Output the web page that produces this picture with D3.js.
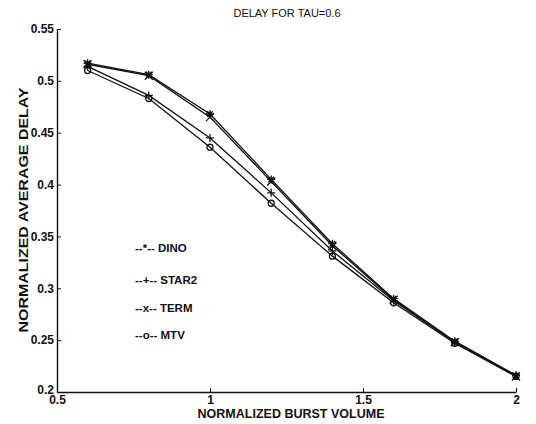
<!DOCTYPE html>
<html><head><meta charset="utf-8">
<script src="https://cdn.jsdelivr.net/npm/d3@7"></script>
<style>body{margin:0;background:#fff}svg{display:block}text{font-family:"Liberation Sans",Arial,sans-serif;fill:#111}</style>
</head><body>
<script>
const xValues = [0.6, 0.8, 1.0, 1.2, 1.4, 1.6, 1.8, 2.0];
const dino  = [0.517, 0.506, 0.468, 0.405, 0.343, 0.290, 0.249, 0.216];
const star2 = [0.514, 0.486, 0.445, 0.392, 0.336, 0.288, 0.248, 0.216];
const term  = [0.516, 0.505, 0.465, 0.403, 0.341, 0.289, 0.248, 0.215];
const mtv   = [0.510, 0.483, 0.436, 0.382, 0.331, 0.286, 0.247, 0.215];
const seriesNames = ["DINO", "STAR2", "TERM", "MTV"];
const markerSyms = ["*", "+", "x", "o"];
const xTicks = [0.5, 1, 1.5, 2];
const yTicks = [0.2, 0.25, 0.3, 0.35, 0.4, 0.45, 0.5, 0.55];

const W = 536, H = 424;
const FF = "Liberation Sans, Arial, sans-serif";
const svg = d3.select("body").append("svg").attr("width", W).attr("height", H);
const x = d3.scaleLinear().domain([0.5, 2]).range([57, 516]);
const y = d3.scaleLinear().domain([0.2, 0.55]).range([392, 29]);

const fmt = d => String(d);
svg.append("g").attr("transform", "translate(0,392)")
  .call(d3.axisBottom(x).tickValues(xTicks).tickFormat(fmt).tickSizeInner(-4).tickSizeOuter(0).tickPadding(3))
  .call(g => { g.select(".domain").attr("stroke", "#111").attr("stroke-width", 1.4); g.selectAll("line").attr("stroke", "#111");
    g.selectAll("text").attr("font-size", 12).attr("font-weight", "bold").attr("font-family", FF).attr("fill", "#111"); });
svg.append("g").attr("transform", "translate(57,0)")
  .call(d3.axisLeft(y).tickValues(yTicks).tickFormat(fmt).tickSizeInner(-4).tickSizeOuter(0).tickPadding(3))
  .call(g => { g.select(".domain").attr("stroke", "#111").attr("stroke-width", 1.4); g.selectAll("line").attr("stroke", "#111");
    g.selectAll("text").attr("font-size", 12).attr("font-weight", "bold").attr("font-family", FF).attr("fill", "#111")
      .filter(d => d === 0.2).attr("dy", "0.1em"); });

const all = [dino, star2, term, mtv];
const line = d3.line().x((d, i) => x(xValues[i])).y(d => y(d));
function marker(sym, r) {
  const p = d3.path();
  if (sym === "+") { p.moveTo(-r,0); p.lineTo(r,0); p.moveTo(0,-r); p.lineTo(0,r); }
  else if (sym === "x") { p.moveTo(-r,-r); p.lineTo(r,r); p.moveTo(-r,r); p.lineTo(r,-r); }
  else if (sym === "*") { p.moveTo(-r,0); p.lineTo(r,0); p.moveTo(0,-r); p.lineTo(0,r);
    const q = r*0.7; p.moveTo(-q,-q); p.lineTo(q,q); p.moveTo(-q,q); p.lineTo(q,-q); }
  else { p.moveTo(r,0); p.arc(0,0,r,0,2*Math.PI); }
  return p.toString();
}
all.forEach((s, k) => {
  svg.append("path").attr("d", line(s)).attr("fill", "none").attr("stroke", "#111").attr("stroke-width", 1.3);
  svg.append("g").selectAll("path").data(s).join("path")
    .attr("transform", (d, i) => `translate(${x(xValues[i])},${y(d)})`)
    .attr("d", marker(markerSyms[k], markerSyms[k] === "o" ? 3 : 4))
    .attr("fill", "none").attr("stroke", "#111").attr("stroke-width", 1.3);
});

const legY = [248, 280, 308, 335];
seriesNames.forEach((n, k) => {
  svg.append("text").attr("x", 135).attr("y", legY[k]).attr("dy", "0.35em").attr("font-size", 11.5).attr("font-weight", "bold")
    .text(`--${markerSyms[k]}-- ${n}`);
});

svg.append("text").attr("x", 287).attr("y", 17).attr("text-anchor", "middle").attr("font-size", 11).text("DELAY FOR TAU=0.6");
svg.append("text").attr("x", 291).attr("y", 418).attr("text-anchor", "middle").attr("font-size", 12).attr("font-weight", "bold")
  .attr("textLength", 187).attr("lengthAdjust", "spacingAndGlyphs").text("NORMALIZED BURST VOLUME");
svg.append("text").attr("transform", "translate(28,210) rotate(-90)").attr("text-anchor", "middle").attr("font-size", 12).attr("font-weight", "bold")
  .attr("textLength", 245).attr("lengthAdjust", "spacingAndGlyphs").text("NORMALIZED AVERAGE DELAY");
</script>
</body></html>
